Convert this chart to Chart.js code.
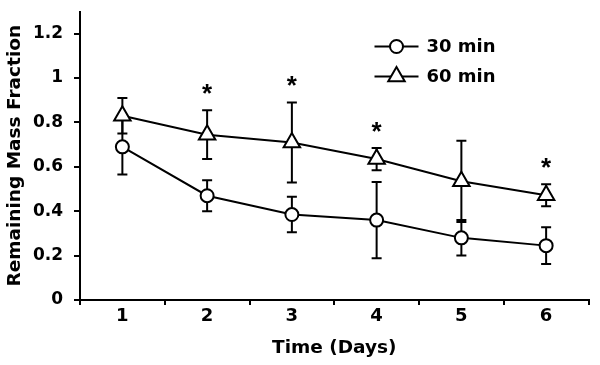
<!DOCTYPE html>
<html>
<head>
<meta charset="utf-8">
<script src="https://cdn.jsdelivr.net/npm/chart.js@4/dist/chart.umd.min.js"></script>
<style>
  html, body { margin: 0; padding: 0; background: #fff; }
  #wrap { width: 600px; height: 365px; }
</style>
</head>
<body>
<div id="wrap"><canvas id="chart"></canvas></div>
<script>
// values
const days = ['1', '2', '3', '4', '5', '6'];
const mass30 = [0.69, 0.47, 0.385, 0.36, 0.28, 0.245];
const err30 = [0.125, 0.07, 0.08, 0.172, 0.08, 0.083];
const mass60 = [0.83, 0.745, 0.71, 0.635, 0.535, 0.472];
const err60 = [0.08, 0.11, 0.18, 0.05, 0.183, 0.05];
const significant = [false, true, true, true, false, true];
const yTicks = [0, 0.2, 0.4, 0.6, 0.8, 1, 1.2];

const FONT = 'DejaVu Sans';

// error bars go under the markers
const errorBars = {
    id: 'errorBars',
    beforeDatasetsDraw(chart) {
        const ctx = chart.ctx;
        const y = chart.scales.y;
        ctx.save();
        ctx.strokeStyle = '#000';
        ctx.lineWidth = 2;
        chart.data.datasets.forEach((ds, i) => {
            const meta = chart.getDatasetMeta(i);
            meta.data.forEach((pt, j) => {
                const v = ds.data[j], e = ds.errors[j];
                const top = y.getPixelForValue(v + e);
                const bot = y.getPixelForValue(v - e);
                ctx.beginPath();
                ctx.moveTo(pt.x, top); ctx.lineTo(pt.x, bot);
                ctx.moveTo(pt.x - 5, top); ctx.lineTo(pt.x + 5, top);
                ctx.moveTo(pt.x - 5, bot); ctx.lineTo(pt.x + 5, bot);
                ctx.stroke();
            });
        });
        ctx.restore();
    }
};

// asterisks and the legend inside the plot
const extras = {
    id: 'extras',
    afterDraw(chart) {
        const ctx = chart.ctx;
        const y = chart.scales.y;
        const meta = chart.getDatasetMeta(1);
        ctx.save();
        ctx.fillStyle = '#000';
        ctx.font = 'bold 26px "Liberation Sans"';
        ctx.textAlign = 'center';
        ctx.textBaseline = 'alphabetic';
        const m = ctx.measureText('*');
        const mid = (m.actualBoundingBoxAscent - m.actualBoundingBoxDescent) / 2;
        significant.forEach((s, j) => {
            if (!s) return;
            const top = y.getPixelForValue(mass60[j] + err60[j]);
            ctx.fillText('*', meta.data[j].x, top - 21 + mid);
        });

        const ca = chart.chartArea;
        const x0 = ca.right - 214, x1 = ca.right - 170, xm = (x0 + x1) / 2;
        const rows = [[ca.top + 35, 'circle', 6.5, '30 min'], [ca.top + 65, 'triangle', 9.5, '60 min']];
        ctx.font = 'bold 18px "' + FONT + '"';
        ctx.textAlign = 'left';
        ctx.textBaseline = 'middle';
        ctx.lineWidth = 2;
        ctx.strokeStyle = '#000';
        rows.forEach(([ry, style, r, label]) => {
            ctx.beginPath();
            ctx.moveTo(x0, ry); ctx.lineTo(x1, ry);
            ctx.stroke();
            ctx.fillStyle = '#fff';
            Chart.helpers.drawPoint(ctx, { pointStyle: style, radius: r, borderWidth: 2 }, xm, ry);
            ctx.fillStyle = '#000';
            ctx.fillText(label, x1 + 8, ry + 1);
        });
        ctx.restore();
    }
};

function noPadding(scale) {
    scale.paddingTop = 0;
    scale.paddingBottom = 0;
    scale.paddingLeft = 0;
    scale.paddingRight = 0;
}

const ctx = document.getElementById('chart').getContext('2d');

new Chart(ctx, {
    type: 'line',
    data: {
        labels: days,
        datasets: [
            {
                label: '30 min',
                data: mass30,
                errors: err30,
                borderColor: '#000',
                borderWidth: 2,
                pointStyle: 'circle',
                pointRadius: 6.5,
                pointBorderWidth: 2,
                pointBackgroundColor: '#fff',
                pointBorderColor: '#000',
                tension: 0
            },
            {
                label: '60 min',
                data: mass60,
                errors: err60,
                borderColor: '#000',
                borderWidth: 2,
                pointStyle: 'triangle',
                pointRadius: 9.5,
                pointBorderWidth: 2,
                pointBackgroundColor: '#fff',
                pointBorderColor: '#000',
                tension: 0
            }
        ]
    },
    options: {
        responsive: true,
        maintainAspectRatio: false,
        animation: false,
        layout: { padding: { top: 7, right: 7, left: 0, bottom: 0 } },
        plugins: {
            legend: { display: false },
            tooltip: { enabled: false }
        },
        scales: {
            x: {
                type: 'category',
                offset: true,
                grid: {
                    offset: true,
                    drawOnChartArea: false,
                    drawTicks: true,
                    tickLength: 5,
                    color: '#000',
                    lineWidth: 2
                },
                border: { color: '#000', width: 2 },
                ticks: {
                    color: '#000',
                    padding: 1,
                    font: { family: FONT, weight: 'bold', size: 18 }
                },
                title: {
                    display: true,
                    text: 'Time (Days)',
                    color: '#000',
                    padding: { top: 4, bottom: 6 },
                    font: { family: FONT, weight: 'bold', size: 18.5 }
                },
                afterFit(scale) {
                    scale.height = 65;
                    noPadding(scale);
                }
            },
            y: {
                min: 0,
                max: 1.3,
                grid: {
                    drawOnChartArea: false,
                    drawTicks: true,
                    tickLength: 6,
                    color: '#000',
                    lineWidth: 2
                },
                border: { color: '#000', width: 2 },
                afterBuildTicks(scale) {
                    scale.ticks = yTicks.map(v => ({ value: v }));
                },
                ticks: {
                    color: '#000',
                    padding: 11,
                    font: { family: FONT, weight: 'bold', size: 17 },
                    callback: v => String(v)
                },
                title: {
                    display: true,
                    text: 'Remaining Mass Fraction',
                    color: '#000',
                    padding: { top: 4, bottom: 0 },
                    font: { family: FONT, weight: 'bold', size: 18.5 }
                },
                afterFit(scale) {
                    scale.width = 80;
                    noPadding(scale);
                }
            }
        }
    },
    plugins: [errorBars, extras]
});
</script>
</body>
</html>
